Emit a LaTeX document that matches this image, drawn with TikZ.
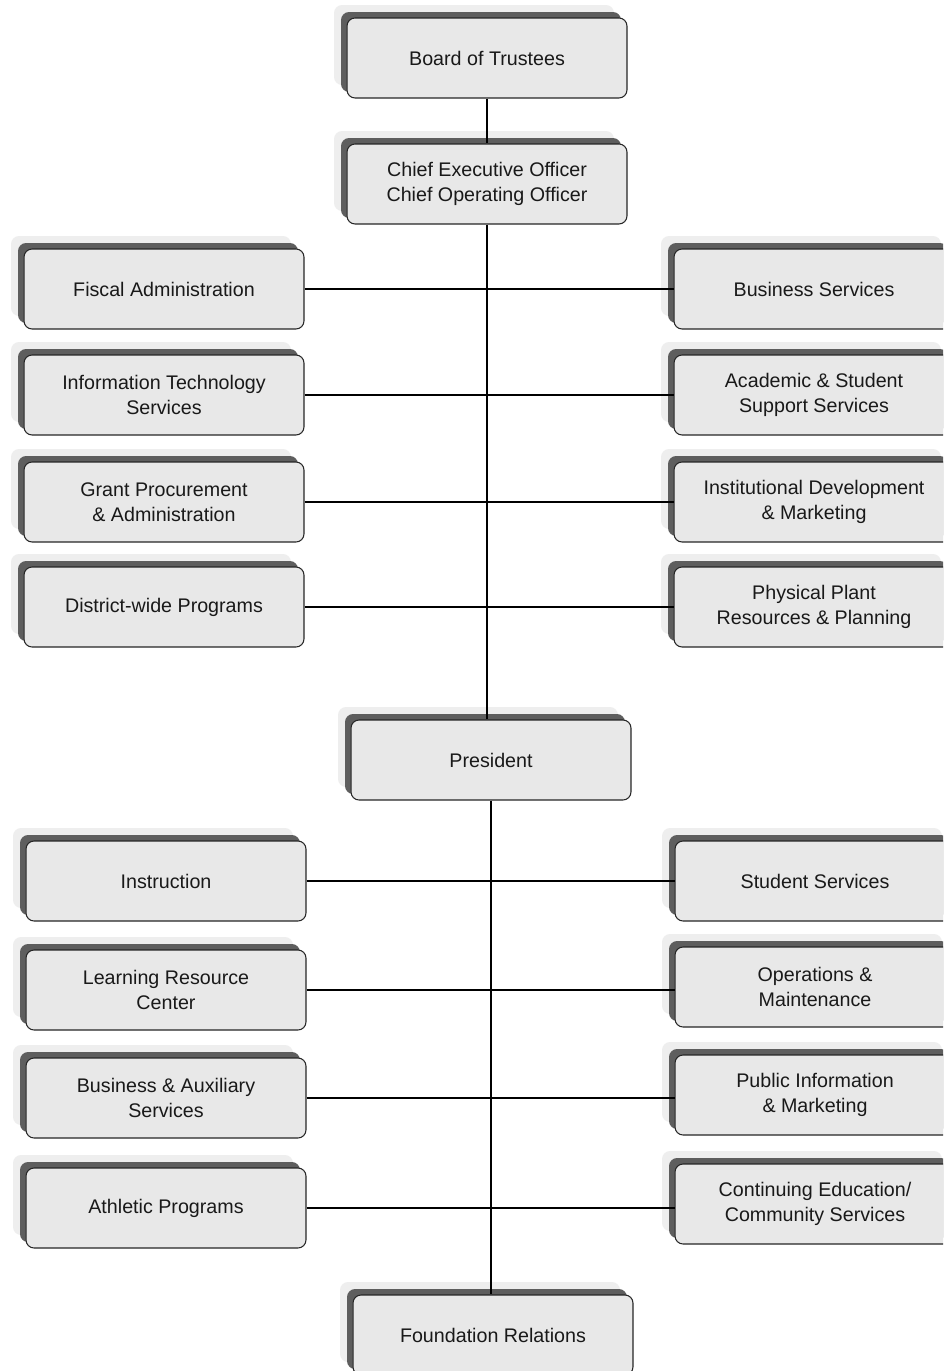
\documentclass[tikz,border=0pt]{standalone}
\usepackage{fontspec}
\setmainfont{Liberation Sans}
\usetikzlibrary{shadows}
\definecolor{boxfill}{HTML}{E8E8E8}
\definecolor{shadowdark}{HTML}{5E5E5E}
\definecolor{shadowhalo}{HTML}{EEEEEE}
\tikzset{
  orgbox/.style={draw=black!85, line width=0.6pt, fill=boxfill, rounded corners=0.16cm,
    minimum width=5.6cm, minimum height=1.6cm, align=center, inner sep=0pt,
    font=\fontsize{11.2}{14.2}\selectfont, text=black!90,
    general shadow={shadow xshift=-0.26cm, shadow yshift=0.26cm, fill=shadowhalo, draw=none},
    general shadow={shadow xshift=-0.12cm, shadow yshift=0.12cm, fill=shadowdark, draw=none}},
  link/.style={line width=0.7pt}
}

\begin{document}
\begin{tikzpicture}[x=0.02cm, y=-0.02cm]
			%%%%% START %%%%%
			\useasboundingbox (0, 0) rectangle (943, 1371);
			\clip (0, 0) rectangle (943, 1371);
			\fill[white] (0, 0) rectangle (943, 1371);
			
			\node[orgbox] (board) at (487, 58) {Board of Trustees};
			\node[orgbox] (ceo) at (487, 184) {Chief Executive Officer\\Chief Operating Officer};
			
			\node[orgbox] (fiscal) at (164, 289) {Fiscal Administration};
			\node[orgbox] (infotech) at (164, 395) {Information Technology\\Services};
			\node[orgbox] (grant) at (164, 502) {Grant Procurement\\\& Administration};
			\node[orgbox] (district) at (164, 607) {District-wide Programs};
			
			\node[orgbox] (business) at (814, 289) {Business Services};
			\node[orgbox] (academic) at (814, 395) {Academic \& Student\\Support Services};
			\node[orgbox] (institutional) at (814, 502) {Institutional Development\\\& Marketing};
			\node[orgbox] (plant) at (814, 607) {Physical Plant\\Resources \& Planning};
			
			\node[orgbox] (president) at (491, 760) {President};
			
			\node[orgbox] (instruction) at (166, 881) {Instruction};
			\node[orgbox] (learning) at (166, 990) {Learning Resource\\Center};
			\node[orgbox] (auxiliary) at (166, 1098) {Business \& Auxiliary\\Services};
			\node[orgbox] (athletic) at (166, 1208) {Athletic Programs};
			
			\node[orgbox] (student) at (815, 881) {Student Services};
			\node[orgbox] (operations) at (815, 987) {Operations \&\\Maintenance};
			\node[orgbox] (publicinfo) at (815, 1095) {Public Information\\\& Marketing};
			\node[orgbox] (continuing) at (815, 1204) {Continuing Education/\\Community Services};
			
			\node[orgbox] (foundation) at (493, 1335) {Foundation Relations};
			
			\draw[link] (board.south) -- (ceo.north);
			\draw[link] (ceo.south) -- (ceo.south |- president.north);
			\draw[link] (fiscal.east) -- (business.west);
			\draw[link] (infotech.east) -- (academic.west);
			\draw[link] (grant.east) -- (institutional.west);
			\draw[link] (district.east) -- (plant.west);
			
			\draw[link] (president.south) -- (president.south |- foundation.north);
			\draw[link] (instruction.east) -- (student.west);
			\draw[link] (learning.east) -- (learning.east -| operations.west);
			\draw[link] (auxiliary.east) -- (auxiliary.east -| publicinfo.west);
			\draw[link] (athletic.east) -- (athletic.east -| continuing.west);
			%%%%% END %%%%%
\end{tikzpicture}
\end{document}
